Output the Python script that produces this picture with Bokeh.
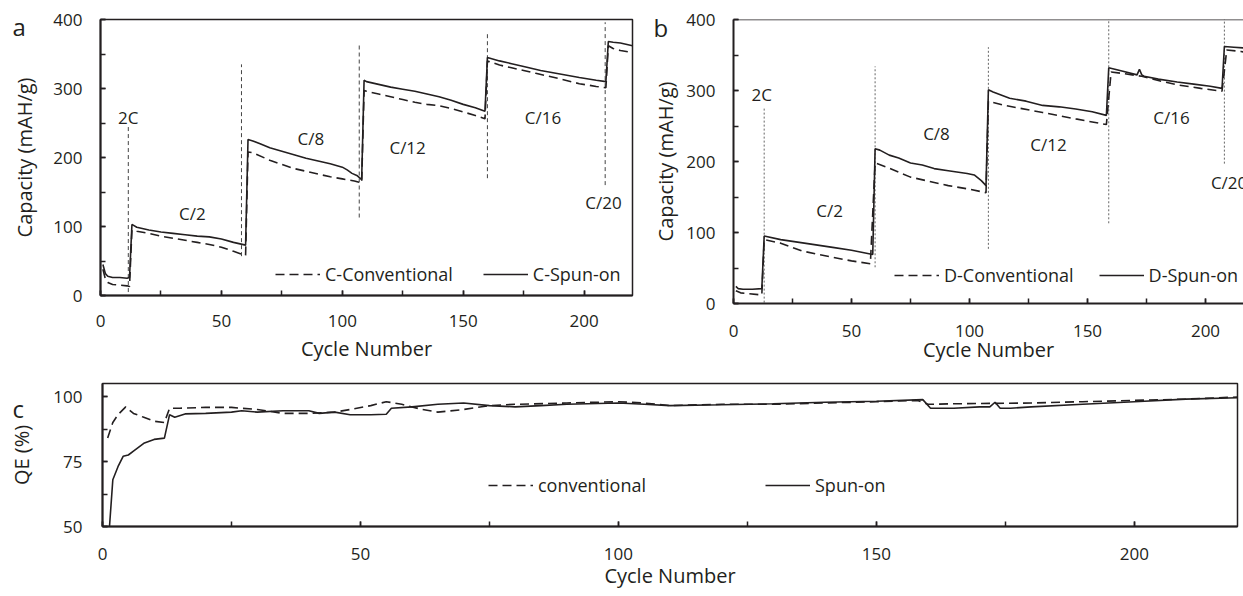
from bokeh.plotting import figure
from bokeh.layouts import column, row
from bokeh.models import Range1d, FixedTicker, Legend, LegendItem, Span, Title
from bokeh.core.properties import value
from bokeh.embed import file_html
from bokeh.resources import INLINE

FONT = "Open Sans"
INK = "#231f20"

# ---------------- Panel a data ----------------
a_spun_x = [1, 2, 3, 5, 8, 11, 12, 13, 15, 20, 25, 30, 35, 40, 45, 50, 55, 60, 61, 63, 66, 70, 75, 80, 85, 90, 95, 100, 102, 104, 106, 108,
            109, 110, 115, 120, 125, 130, 135, 140, 145, 150, 155, 159, 160, 165, 170, 175, 182, 190, 198, 205, 209, 210, 212, 215, 220]
a_spun_y = [45, 32, 28, 26, 26, 25, 26, 103, 99, 95, 92, 90, 88, 86, 85, 82, 77, 73, 226, 224, 220, 214, 209, 204, 199, 195, 191, 186, 182, 177, 174, 168,
            312, 310, 306, 302, 299, 296, 292, 288, 283, 277, 272, 267, 345, 340, 336, 332, 326, 321, 316, 312, 310, 368, 367, 366, 362]
a_conv_x = [1, 2, 3, 5, 8, 11, 12, 13, 15, 20, 25, 30, 35, 40, 45, 50, 55, 60, 61, 63, 70, 75, 80, 85, 90, 95, 100, 105, 108,
            109, 110, 115, 120, 125, 130, 135, 140, 145, 150, 155, 159, 160, 165, 170, 175, 180, 185, 190, 198, 205, 209, 210, 212, 215, 220]
a_conv_y = [38, 24, 19, 16, 15, 14, 13, 95, 93, 90, 86, 83, 80, 77, 74, 70, 64, 58, 208, 207, 196, 190, 184, 180, 176, 172, 169, 166, 163,
            297, 296, 292, 288, 284, 280, 277, 275, 271, 266, 261, 256, 340, 334, 330, 326, 322, 318, 314, 307, 303, 301, 362, 358, 355, 352]
a_mark_x = [11.5, 58.3, 107, 160, 208.7]
a_mark_y0 = [5, 57, 113, 170, 160]
a_mark_y1 = [248, 335, 365, 381, 396]
a_rate_text = ["2C", "C/2", "C/8", "C/12", "C/16", "C/20"]
a_rate_x = [11.5, 38, 87, 127, 183, 208]
a_rate_y = [258, 119, 228, 215, 258, 135]

# ---------------- Panel b data ----------------
b_spun_x = [1, 2, 4, 8, 12, 13, 20, 30, 42, 50, 59, 60, 62, 66, 70, 75, 80, 85, 91, 99, 102, 105, 107, 108, 110, 117, 124, 131, 138, 145, 152, 158,
            159, 165, 171, 172, 173, 174, 180, 188, 195, 202, 207, 208, 212, 216, 220]
b_spun_y = [24, 21, 20, 20, 21, 95, 90, 85, 79, 75, 69, 218, 216, 209, 205, 198, 195, 190, 187, 183, 181, 173, 166, 301, 298, 289, 285, 279, 277, 274, 270, 265,
            332, 327, 322, 330, 322, 320, 316, 312, 309, 306, 303, 362, 361, 360, 358]
b_conv_x = [1, 3, 6, 12, 13, 20, 29, 42, 50, 58, 60, 65, 75, 91, 100, 107, 108, 115, 131, 145, 158, 160, 165, 173, 180, 188, 198, 207, 209, 215, 220]
b_conv_y = [18, 15, 14, 12, 90, 85, 74, 65, 60, 56, 198, 192, 178, 166, 161, 156, 285, 279, 269, 260, 252, 326, 324, 320, 314, 308, 303, 299, 357, 355, 352]
b_mark_x = [13, 60, 108, 159, 208]
b_mark_y0 = [-10, 51, 77, 113, 197]
b_mark_y1 = [275, 334, 361, 405, 405]
b_rate_text = ["2C", "C/2", "C/8", "C/12", "C/16", "C/20"]
b_rate_x = [12, 40.7, 86, 133.5, 185.6, 210]
b_rate_y = [294, 131, 239, 224, 262, 170]

# ---------------- Panel c data ----------------
c_spun_x = [1, 2, 3, 4, 5, 6, 8, 10, 12, 13, 14, 16, 20, 25, 27, 30, 35, 40, 42, 45, 48, 52, 55, 56, 60, 65, 70, 75, 80, 85, 90, 100, 105, 110,
            120, 130, 140, 150, 159, 160.5, 165, 170, 172, 173, 174, 176, 180, 190, 200, 210, 220]
c_spun_y = [40, 68, 73, 77, 77.5, 79, 82, 83.5, 84, 93, 92, 93.3, 93.5, 94, 94.5, 94, 94.5, 94.5, 93.5, 94, 93, 93, 93.2, 95.5, 96, 97, 97.5, 96.5, 96, 96.5, 97, 97.5, 97, 96.5,
            96.8, 97.2, 97.8, 98.2, 98.8, 95.5, 95.5, 96, 96, 97.8, 95.5, 95.5, 96, 97, 98, 99, 99.5]
c_conv_x = [1, 2, 3, 4.5, 6, 8, 10, 12, 13, 15, 20, 25, 30, 35, 40, 45, 48, 52, 55, 58, 62, 65, 70, 75, 80, 90, 100, 105, 110, 120, 130, 140, 150,
            158, 160, 165, 170, 180, 190, 200, 210, 220]
c_conv_y = [84, 90, 93, 96, 93.5, 92, 90.5, 90, 95.5, 95.5, 95.8, 95.8, 95, 93.5, 93.5, 94, 95, 96.5, 98, 97, 95, 94, 95, 96.5, 97, 97.5, 98, 97.5, 96.5, 97, 97, 97.5, 98,
            98.5, 97, 97.2, 97.3, 97.5, 98, 98.5, 99, 99.8]

cap_ticks = [0, 100, 200, 300, 400]
cap_minor = [0, 50, 100, 150, 200, 250, 300, 350, 400]
cyc_ticks = [0, 50, 100, 150, 200]
cyc_minor = [0, 25, 50, 75, 100, 125, 150, 175, 200, 225]
qe_ticks = [50, 75, 100]
qe_minor = [50, 62.5, 75, 87.5, 100]


def style(p, xt, xm, yt, ym, xstand, xtstand, ystand, ytstand):
    p.grid.visible = False
    p.xaxis.ticker = FixedTicker(ticks=xt, minor_ticks=xm)
    p.yaxis.ticker = FixedTicker(ticks=yt, minor_ticks=ym)
    for ax in (p.xaxis[0], p.yaxis[0]):
        ax.axis_line_color = INK
        ax.axis_line_width = 2
        ax.major_tick_in = 5
        ax.major_tick_out = 0
        ax.minor_tick_in = 5
        ax.minor_tick_out = 0
        ax.major_tick_line_color = INK
        ax.minor_tick_line_color = INK
        ax.major_tick_line_width = 1.5
        ax.minor_tick_line_width = 1.5
        ax.major_label_text_font = FONT
        ax.major_label_text_font_size = "17px"
        ax.major_label_text_color = INK
        ax.axis_label_text_font = FONT
        ax.axis_label_text_font_size = "20px"
        ax.axis_label_text_font_style = "normal"
        ax.axis_label_text_color = INK
    p.xaxis.major_label_standoff = xstand
    p.xaxis.axis_label_standoff = xtstand
    p.yaxis.major_label_standoff = ystand
    p.yaxis.axis_label_standoff = ytstand


def add_legend(p, r_conv, r_spun, names, loc, spacing):
    lg = Legend(items=[LegendItem(label=names[0], renderers=[r_conv]),
                       LegendItem(label=names[1], renderers=[r_spun])],
                location=loc, orientation="horizontal", glyph_width=45, glyph_height=20,
                label_height=20, label_standoff=5, spacing=spacing, padding=0, margin=0,
                border_line_color=None, background_fill_alpha=0,
                label_text_font=FONT, label_text_font_size="18px", label_text_color=INK)
    p.add_layout(lg)


def panel_letter(p, txt, offset, standoff):
    p.add_layout(Title(text=txt, align="left", vertical_align="bottom", offset=offset,
                       standoff=standoff, text_font=FONT, text_font_size="24px",
                       text_font_style="normal", text_color=INK), "above")


# ---------------- Panel a ----------------
pa = figure(width=640, height=370, output_backend="svg", toolbar_location=None, frame_align=False,
            x_range=Range1d(0, 220), y_range=Range1d(0, 400),
            min_border_left=100, min_border_right=8, min_border_top=19, min_border_bottom=75,
            x_axis_label="Cycle Number", y_axis_label="Capacity (mAH/g)")
pa.outline_line_color = INK
pa.outline_line_width = 1.5
style(pa, cyc_ticks, cyc_minor, cap_ticks, cap_minor, 19, 5, 18, 12)
pa.segment(x0=a_mark_x, y0=a_mark_y0, x1=a_mark_x, y1=a_mark_y1, line_color="#444444",
           line_width=1, line_dash="4 3")
ra_conv = pa.line(a_conv_x, a_conv_y, line_color=INK, line_width=1.6, line_dash="9 5")
ra_spun = pa.line(a_spun_x, a_spun_y, line_color=INK, line_width=1.6)
pa.text(x=a_rate_x, y=a_rate_y, text=a_rate_text, text_font=value(FONT), text_font_size="17px",
        text_color=INK, text_align="center", text_baseline="middle")
add_legend(pa, ra_conv, ra_spun, ["C-Conventional", "C-Spun-on"], (175, 9), 30)
panel_letter(pa, "a", -88, -46)

# ---------------- Panel b ----------------
pb = figure(width=603, height=370, output_backend="svg", toolbar_location=None, frame_align=False,
            x_range=Range1d(0, 216.1), y_range=Range1d(0, 400),
            min_border_left=93, min_border_right=0, min_border_top=19, min_border_bottom=67,
            x_axis_label="Cycle Number", y_axis_label="Capacity (mAH/g)")
pb.outline_line_color = None
style(pb, cyc_ticks, cyc_minor, cap_ticks, cap_minor, 21, -4, 18, 4)
pb.add_layout(Span(location=400, dimension="width", line_color=INK, line_width=1.5))
pb.segment(x0=b_mark_x, y0=b_mark_y0, x1=b_mark_x, y1=b_mark_y1, line_color="#666666",
           line_width=1, line_dash="2 2")
rb_conv = pb.line(b_conv_x, b_conv_y, line_color=INK, line_width=1.6, line_dash="9 5")
rb_spun = pb.line(b_spun_x, b_spun_y, line_color=INK, line_width=1.6)
pb.text(x=b_rate_x, y=b_rate_y, text=b_rate_text, text_font=value(FONT), text_font_size="17px",
        text_color=INK, text_align="center", text_baseline="middle")
add_legend(pb, rb_conv, rb_spun, ["D-Conventional", "D-Spun-on"], (161, 16), 25)
panel_letter(pb, "b", -80, -48)

# ---------------- Panel c ----------------
pc = figure(width=1243, height=226, output_backend="svg", toolbar_location=None, frame_align=False,
            x_range=Range1d(0, 220), y_range=Range1d(50, 105),
            min_border_left=102, min_border_right=6, min_border_top=13, min_border_bottom=70,
            x_axis_label="Cycle Number", y_axis_label="QE (%)")
pc.outline_line_color = INK
pc.outline_line_width = 1.5
style(pc, cyc_ticks, cyc_minor, qe_ticks, qe_minor, 21, -1, 20, 15)
rc_conv = pc.line(c_conv_x, c_conv_y, line_color=INK, line_width=1.6, line_dash="9 5")
rc_spun = pc.line(c_spun_x, c_spun_y, line_color=INK, line_width=1.6)
add_legend(pc, rc_conv, rc_spun, ["conventional", "Spun-on"], (386, 29), 119)
panel_letter(pc, "c", -90, -82)

layout = column(row(pa, pb, spacing=0), pc, spacing=0)
open("out.html", "w").write(file_html(layout, INLINE))
